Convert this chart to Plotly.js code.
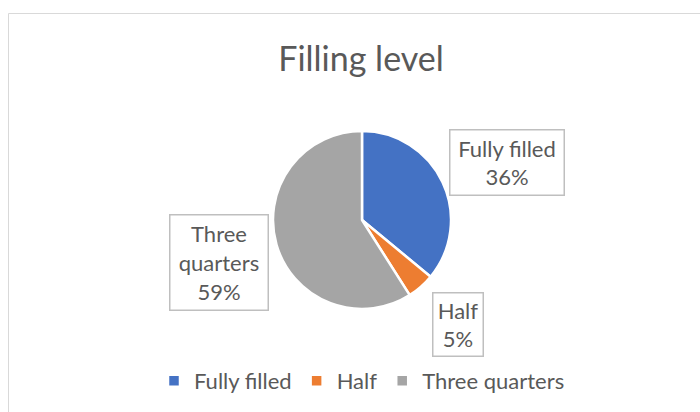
<!DOCTYPE html>
<html>
<head>
<meta charset="utf-8">
<script src="https://cdn.plot.ly/plotly-3.0.1.min.js"></script>
<style>html,body{margin:0;padding:0;background:#fff;}#chart{width:700px;height:412px;}</style>
</head>
<body>
<div id="chart"></div>
<script>
const categories = ["Fully filled", "Half", "Three quarters"];
const values = [36, 5, 59];
const colors = ["#4472C4", "#ED7D31", "#A5A5A5"];
const labelLines = [["Fully filled"], ["Half"], ["Three", "quarters"]];

const total = values.reduce((a, b) => a + b, 0);
const pct = values.map(v => Math.round(v / total * 100) + "%");

const labelBoxes = [
  {x: 507, y: 162.5, w: 116, h: 67},
  {x: 457.5, y: 324, w: 52, h: 65},
  {x: 219, y: 262.7, w: 100, h: 97}
];

const W = 700, H = 412;
const FONT = "Lato, Open Sans, Liberation Sans, sans-serif";
const annotations = categories.map((c, i) => ({
  xref: "paper", yref: "paper",
  x: labelBoxes[i].x / W, y: 1 - labelBoxes[i].y / H,
  xanchor: "center", yanchor: "middle",
  width: labelBoxes[i].w - 3, height: labelBoxes[i].h - 3,
  text: labelLines[i].join("<br>") + "<br>" + pct[i],
  showarrow: false,
  font: {family: FONT, size: 22, color: "#595959"},
  bordercolor: "#BFBFBF", borderwidth: 1.5, borderpad: 0,
  bgcolor: "#ffffff", align: "center", valign: "middle"
}));

const trace = {
  type: "pie",
  labels: categories,
  values: values,
  sort: false,
  direction: "clockwise",
  rotation: 0,
  textinfo: "none",
  hoverinfo: "label+percent",
  marker: {colors: colors, line: {color: "#ffffff", width: 2.5}},
  domain: {x: [(362 - 89) / W, (362 + 89) / W], y: [1 - (220 + 89) / H, 1 - (220 - 89) / H]}
};

const layout = {
  width: W, height: H,
  margin: {l: 0, r: 0, t: 0, b: 0},
  paper_bgcolor: "#ffffff",
  title: {text: "Filling level", x: 361 / W, xanchor: "center", y: 1 - 59 / H, yanchor: "middle",
          font: {family: FONT, size: 34, color: "#595959"}},
  showlegend: true,
  legend: {orientation: "h", x: 362 / W, xanchor: "center", y: 1 - 381 / H, yanchor: "middle",
           font: {family: FONT, size: 22, color: "#595959"},
           itemwidth: 30, traceorder: "normal"},
  annotations: annotations,
  shapes: [{type: "rect", xref: "paper", yref: "paper", x0: 8.5 / W, x1: 1.01, y0: -0.01, y1: 1 - 13.5 / H,
            line: {color: "#D9D9D9", width: 1}, fillcolor: "rgba(0,0,0,0)", layer: "below"}]
};

Plotly.newPlot("chart", [trace], layout, {displayModeBar: false, staticPlot: true});
</script>
</body>
</html>
